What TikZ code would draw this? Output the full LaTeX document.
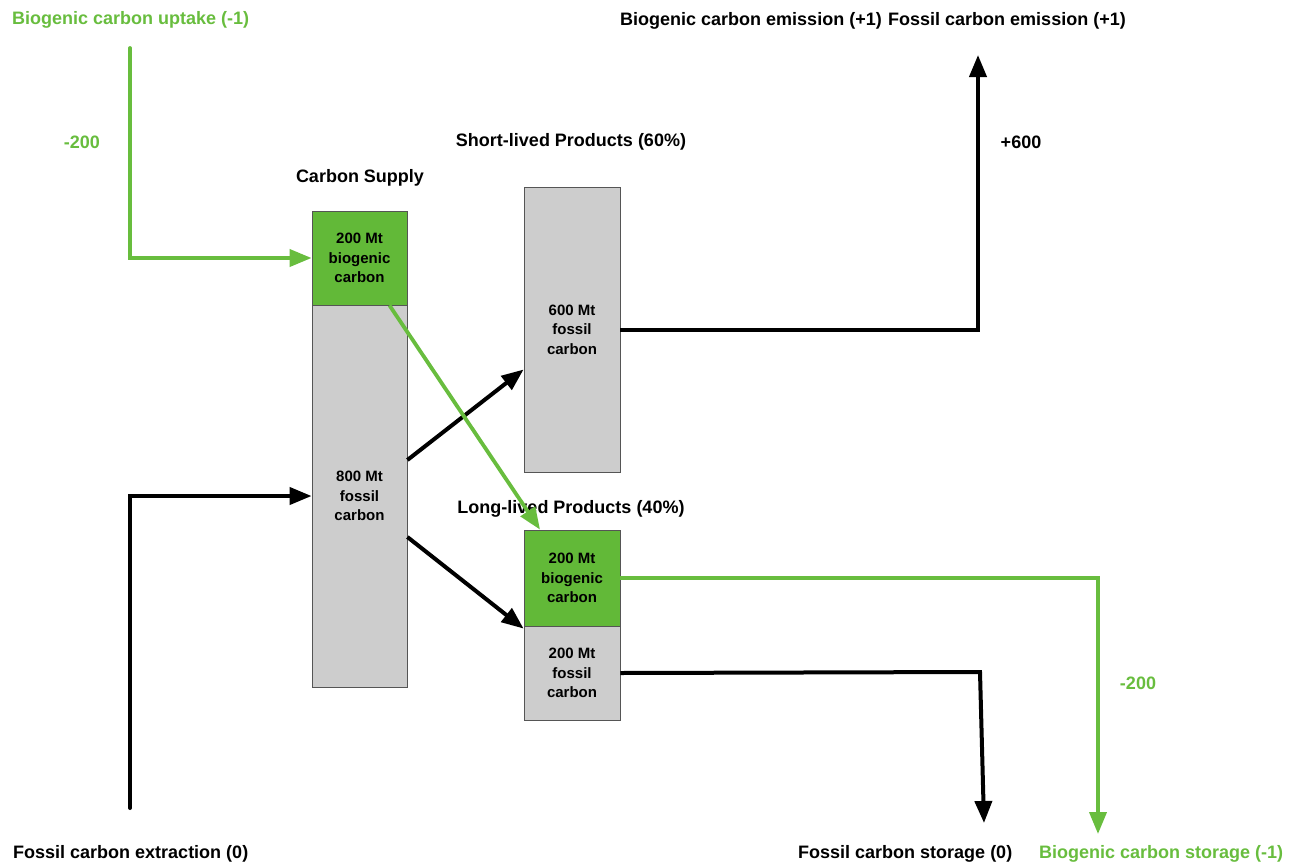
\documentclass[tikz,border=0pt]{standalone}
\usepackage{fontspec}
\setmainfont{Liberation Sans}
\usetikzlibrary{arrows.meta,calc}
\definecolor{bioline}{RGB}{104,189,62}
\definecolor{biofill}{RGB}{98,185,56}
\definecolor{fosfill}{RGB}{205,205,205}
\definecolor{boxedge}{RGB}{85,85,85}
\begin{document}
\begin{tikzpicture}[x=1pt,y=-1pt,
  lbl/.style={font=\fontsize{18}{21}\selectfont\bfseries, inner sep=0pt},
  head/.style={font=\fontsize{18}{21}\selectfont\bfseries, inner sep=0pt},
  boxtxt/.style={font=\fontsize{15}{19.5}\selectfont\bfseries, align=center},
  bio/.style={rectangle, draw=boxedge, line width=0.8pt, fill=biofill, minimum width=95pt, boxtxt},
  fos/.style={rectangle, draw=boxedge, line width=0.8pt, fill=fosfill, minimum width=95pt, boxtxt},
  flowk/.style={draw=black, line width=4pt, -{Triangle[length=22pt,width=17pt]}},
  flowg/.style={draw=bioline, line width=3.8pt, -{Triangle[length=22pt,width=17pt]}}
]
\useasboundingbox (0,0) rectangle (1304,865);

% carbon supply column
\node[bio, minimum height=94pt]  (supG) at (359.5,258) {200 Mt\\biogenic\\carbon};
\node[fos, minimum height=382pt] (supF) at (359.5,496) {800 Mt\\fossil\\carbon};
% product columns
\node[fos, minimum width=96pt, minimum height=285pt] (short) at (572,329.5) {600 Mt\\fossil\\carbon};
\node[bio, minimum width=96pt, minimum height=96pt] (longG) at (572,578) {200 Mt\\biogenic\\carbon};
\node[fos, minimum width=96pt, minimum height=94pt] (longF) at (572,673) {200 Mt\\fossil\\carbon};

% headings
\node[head] (hsup) at (360,178) {Carbon Supply};
\node[head] (hshort) at (571,142) {Short-lived Products (60\%)};
\node[head] (hlong) at (571,509) {Long-lived Products (40\%)};

% boundary labels
\node[lbl, text=bioline, anchor=west] (tup) at (12,20) {Biogenic carbon uptake (-1)};
\node[lbl, anchor=west] (tbem) at (620,21) {Biogenic carbon emission (+1)};
\node[lbl, anchor=west] (tfem) at (888,21) {Fossil carbon emission (+1)};
\node[lbl, anchor=west] (text) at (13,854) {Fossil carbon extraction (0)};
\node[lbl, anchor=west] (tfst) at (798,854) {Fossil carbon storage (0)};
\node[lbl, text=bioline, anchor=west] (tbst) at (1039,854) {Biogenic carbon storage (-1)};

% flow values
\node[lbl, text=bioline] (vup) at (82,142) {-200};
\node[lbl] (vem) at (1021,142) {+600};
\node[lbl, text=bioline] (vst) at (1138,683) {-200};

% free ends of the flows
\coordinate (upt) at (130,48);
\coordinate (ext) at (130,808);
\coordinate (emit) at (978,55);
\coordinate (bstore) at (1098,834);
\coordinate (fcorner) at (980,672);
\coordinate (fstore) at (984,823);

% flows
\draw[flowg, line cap=round] (upt) |- (supG.west);
\draw[flowk, line cap=round] (ext) |- (supF.west);
\draw[flowk] ([yshift=36pt]supF.east) -- ([yshift=-40pt]short.west);
\draw[flowk] ([yshift=-41pt]supF.east) -- ([yshift=-3pt]longF.north west);
\draw[flowg] ([xshift=30pt]supG.south) -- ([xshift=-32pt]longG.north);
\draw[flowk] (short.east) -| (emit);
\draw[flowg] (longG.east) -| (bstore);
\draw[flowk] (longF.east) -- (fcorner) -- (fstore);
\end{tikzpicture}
\end{document}
